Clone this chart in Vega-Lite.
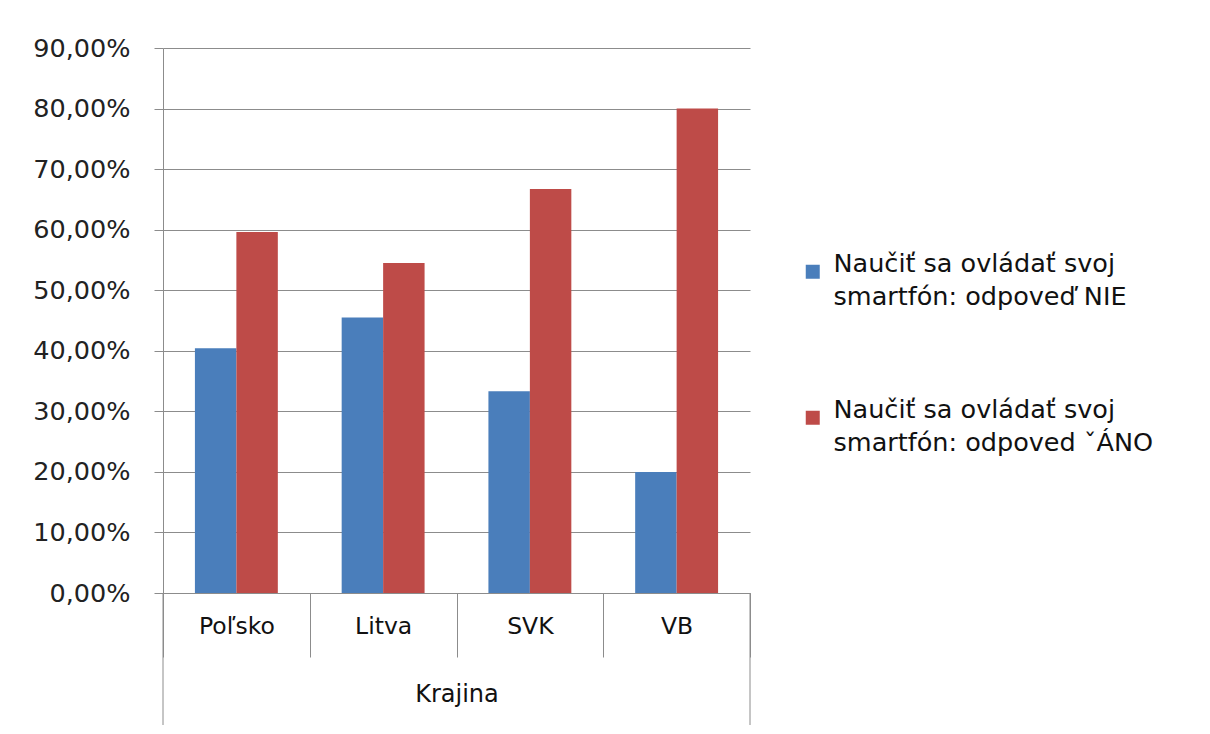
{
  "$schema": "https://vega.github.io/schema/vega-lite/v6.json",
  "width": 587,
  "height": 545,
  "autosize": {"type": "none"},
  "padding": {"left": 163, "top": 48, "right": 460, "bottom": 141},
  "background": "white",
  "config": {
    "font": "DejaVu Sans",
    "view": {"stroke": null},
    "style": {"guide-label": {"lineHeight": 33}}
  },
  "data": {
    "values": [
      {"krajina": "Poľsko", "odpoved": "Naučiť sa ovládať svoj smartfón: odpoveď NIE", "podiel": 0.404},
      {"krajina": "Poľsko", "odpoved": "Naučiť sa ovládať svoj smartfón: odpoved ˇÁNO", "podiel": 0.596},
      {"krajina": "Litva", "odpoved": "Naučiť sa ovládať svoj smartfón: odpoveď NIE", "podiel": 0.455},
      {"krajina": "Litva", "odpoved": "Naučiť sa ovládať svoj smartfón: odpoved ˇÁNO", "podiel": 0.545},
      {"krajina": "SVK", "odpoved": "Naučiť sa ovládať svoj smartfón: odpoveď NIE", "podiel": 0.333},
      {"krajina": "SVK", "odpoved": "Naučiť sa ovládať svoj smartfón: odpoved ˇÁNO", "podiel": 0.667},
      {"krajina": "VB", "odpoved": "Naučiť sa ovládať svoj smartfón: odpoveď NIE", "podiel": 0.2},
      {"krajina": "VB", "odpoved": "Naučiť sa ovládať svoj smartfón: odpoved ˇÁNO", "podiel": 0.8}
    ]
  },
  "encoding": {
    "x": {
      "field": "krajina",
      "type": "nominal",
      "sort": ["Poľsko", "Litva", "SVK", "VB"],
      "scale": {"paddingInner": 0, "paddingOuter": 0},
      "axis": {
        "title": "Krajina",
        "labelAngle": 0,
        "tickBand": "extent",
        "tickSize": 64,
        "tickColor": "#8c8c8c",
        "domainColor": "#8c8c8c",
        "labelPadding": -43,
        "labelFontSize": 23.5,
        "labelColor": "#111111",
        "titleFontSize": 24,
        "titleFontWeight": "normal",
        "titleColor": "#111111",
        "titlePadding": 25
      }
    }
  },
  "layer": [
    {
      "mark": {"type": "bar"},
      "encoding": {
        "xOffset": {
          "field": "odpoved",
          "type": "nominal",
          "sort": ["Naučiť sa ovládať svoj smartfón: odpoveď NIE", "Naučiť sa ovládať svoj smartfón: odpoved ˇÁNO"],
          "scale": {"paddingOuter": 0.77, "paddingInner": 0}
        },
        "y": {
          "field": "podiel",
          "type": "quantitative",
          "scale": {"domain": [0, 0.9]},
          "axis": {
            "title": null,
            "values": [0, 0.1, 0.2, 0.3, 0.4, 0.5, 0.6, 0.7, 0.8, 0.9],
            "labelExpr": "replace(format(datum.value, '.2%'), '.', ',')",
            "tickSize": 9,
            "labelPadding": 24,
            "labelFontSize": 25.5,
            "labelColor": "#222222",
            "gridColor": "#8c8c8c",
            "domainColor": "#8c8c8c",
            "tickColor": "#8c8c8c"
          }
        },
        "color": {
          "field": "odpoved",
          "type": "nominal",
          "sort": ["Naučiť sa ovládať svoj smartfón: odpoveď NIE", "Naučiť sa ovládať svoj smartfón: odpoved ˇÁNO"],
          "scale": {"range": ["#4a7ebb", "#be4b48"]},
          "legend": {
            "orient": "none",
            "legendX": 637,
            "legendY": 211,
            "title": null,
            "symbolType": "square",
            "symbolSize": 196,
            "symbolStrokeWidth": 0,
            "labelFontSize": 25.5,
            "labelColor": "#111111",
            "labelLimit": 0,
            "labelOffset": 8,
            "labelBaseline": "alphabetic",
            "rowPadding": 86,
            "padding": 0,
            "labelExpr": "[substring(datum.label, 0, 22), substring(datum.label, 23)]"
          }
        }
      }
    },
    {
      "transform": [{"filter": "datum.krajina == 'Poľsko'"}, {"aggregate": [{"op": "count", "as": "n"}], "groupby": ["krajina"]}],
      "mark": {"type": "rule", "color": "#8c8c8c", "strokeWidth": 1, "clip": false},
      "encoding": {
        "x": {"field": "krajina", "type": "nominal", "bandPosition": 0},
        "y": {"datum": 0},
        "y2": {"datum": -0.218}
      }
    },
    {
      "transform": [{"filter": "datum.krajina == 'VB'"}, {"aggregate": [{"op": "count", "as": "n"}], "groupby": ["krajina"]}],
      "mark": {"type": "rule", "color": "#8c8c8c", "strokeWidth": 1, "clip": false},
      "encoding": {
        "x": {"field": "krajina", "type": "nominal", "bandPosition": 1},
        "y": {"datum": 0},
        "y2": {"datum": -0.218}
      }
    }
  ]
}
